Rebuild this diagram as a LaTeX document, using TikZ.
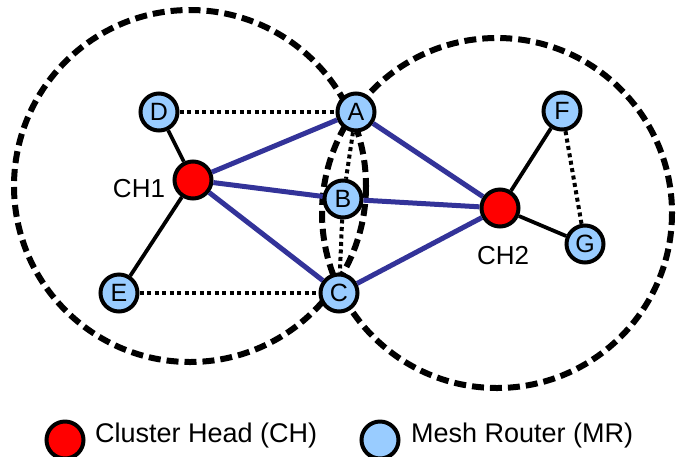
\documentclass[tikz,border=0pt]{standalone}
\usepackage{fontspec}
\setmainfont{Liberation Sans}
\definecolor{mrblue}{RGB}{153,204,255}
\definecolor{linkblue}{RGB}{51,51,153}
\begin{document}
\begin{tikzpicture}[x=1pt,y=-1pt,
  mr/.style={circle, draw=black, line width=4pt, fill=mrblue, minimum size=37pt,
             inner sep=0pt, font=\fontsize{25}{25}\selectfont},
  ch/.style={mr, fill=red},
  coverage/.style={draw=black, line width=6pt, dash pattern=on 12pt off 6pt},
  link/.style={line width=5pt, draw=linkblue},
  tie/.style={line width=3.8pt, draw=black},
  weak/.style={line width=4pt, draw=black, dash pattern=on 4pt off 3.5pt},
  lbl/.style={font=\fontsize{26}{26}\selectfont, inner sep=0pt},
  legtext/.style={font=\fontsize{27}{27}\selectfont, inner sep=0pt, anchor=base west},
]
\useasboundingbox (0,0) rectangle (679,456);

% cluster ranges
\draw[coverage] (190,186) circle [radius=176];
\draw[coverage] (497,213) circle [radius=175];

% nodes
\node[mr] (D) at (159,112) {D};
\node[mr] (A) at (356,112) {A};
\node[mr] (F) at (562,111) {F};
\node[ch] (CH1) at (193,180) {};
\node[mr] (B) at (343,199) {B};
\node[ch] (CH2) at (500,208) {};
\node[mr] (G) at (585,244) {G};
\node[mr] (E) at (119,293) {E};
\node[mr] (C) at (339,293) {C};

\node[lbl] (L1) at (139,189) {CH1};
\node[lbl] (L2) at (503,256) {CH2};

% links between cluster heads and gateways
\draw[link] (CH1) -- (A);
\draw[link] (CH1) -- (B);
\draw[link] (CH1) -- (C);
\draw[link] (CH2) -- (A);
\draw[link] (CH2) -- (B);
\draw[link] (CH2) -- (C);

% members of each cluster
\draw[tie] (CH1) -- (D);
\draw[tie] (CH1) -- (E);
\draw[tie] (CH2) -- (F);
\draw[tie] (CH2) -- (G);

% neighbour links
\draw[weak] (D) -- (A);
\draw[weak] (E) -- (C);
\draw[weak] (F) -- (G);
\draw[weak] (A) -- (B);
\draw[weak] (B) -- (C);

% legend
\node[ch] (K1) at (65,440) {};
\node[legtext] (T1) at (95,442) {Cluster Head (CH)};
\node[mr] (K2) at (380,440) {};
\node[legtext] (T2) at (411,442) {Mesh Router (MR)};
\end{tikzpicture}
\end{document}
